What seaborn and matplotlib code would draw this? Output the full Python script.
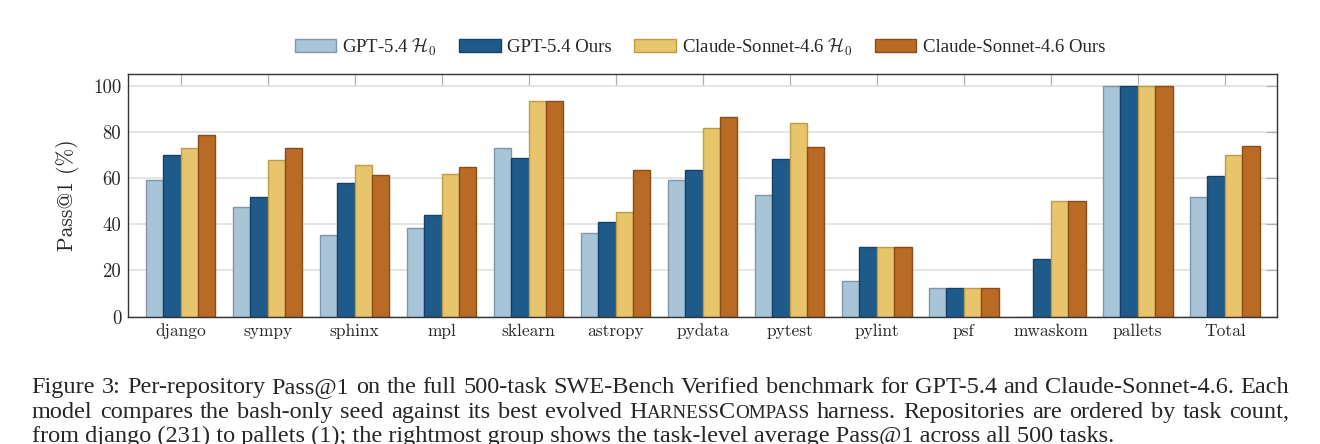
import pandas as pd
import seaborn as sns
import matplotlib.pyplot as plt

# Per-repository Pass@1 (%)
repos = ["django", "sympy", "sphinx", "mpl", "sklearn", "astropy", "pydata",
         "pytest", "pylint", "psf", "mwaskom", "pallets", "Total"]
gpt_h0 = [59.3, 47.3, 35.3, 38.2, 73.2, 36.4, 59.0, 52.5, 15.3, 12.5, 0.0, 100.0, 51.8]
gpt_ours = [70.1, 52.0, 58.0, 44.2, 68.6, 41.0, 63.6, 68.4, 30.0, 12.5, 25.0, 100.0, 61.0]
claude_h0 = [73.1, 67.9, 65.8, 61.7, 93.5, 45.5, 81.6, 84.0, 30.0, 12.5, 50.0, 100.0, 69.9]
claude_ours = [78.7, 73.1, 61.3, 64.6, 93.5, 63.6, 86.2, 73.5, 30.0, 12.5, 50.0, 100.0, 73.7]

series = ["GPT-5.4 $\\mathcal{H}_0$", "GPT-5.4 Ours",
          "Claude-Sonnet-4.6 $\\mathcal{H}_0$", "Claude-Sonnet-4.6 Ours"]
fills = ["#a7c4d9", "#1f5b8a", "#e8c46c", "#b96b25"]
edges = ["#7f97a8", "#15406a", "#bf9c48", "#8a4c16"]

caption_1 = ("Figure 3: Per-repository Pass@1 on the full 500-task SWE-Bench Verified benchmark "
             "for GPT-5.4 and Claude-Sonnet-4.6. Each")
caption_2a = "model compares the bash-only seed against its best evolved"
caption_2b = "harness. Repositories are ordered by task count,"
caption_3 = ("from django (231) to pallets (1); the rightmost group shows the task-level "
             "average Pass@1 across all 500 tasks.")

rows = []
for name, vals in zip(series, [gpt_h0, gpt_ours, claude_h0, claude_ours]):
    for repo, v in zip(repos, vals):
        rows.append({"repo": repo, "series": name, "pass1": v})
df = pd.DataFrame(rows)

sns.set_style("white")
plt.rcParams["font.family"] = ["Liberation Serif", "DejaVu Serif"]
plt.rcParams["mathtext.fontset"] = "cm"

fig = plt.figure(figsize=(13.2, 4.44), dpi=100)
ax = fig.add_axes([128.3 / 1320, 1 - 316.7 / 444, (1277 - 128.3) / 1320, (316.7 - 74) / 444])

sns.barplot(data=df, x="repo", y="pass1", hue="series", hue_order=series,
            palette=fills, width=0.8, gap=0, saturation=1, errorbar=None, ax=ax)
for cont, ec in zip(ax.containers, edges):
    for p in cont:
        p.set_edgecolor(ec)
        p.set_linewidth(1.0)
ax.get_legend().remove()

ax.set_xlim(-0.6, 12.6)
ax.set_ylim(0, 105)
ax.set_yticks([0, 20, 40, 60, 80, 100])
ax.set_yticklabels(["0", "20", "40", "60", "80", "100"], family="cmr10", fontsize=13.5)
ax.set_xticks(range(len(repos)))
ax.set_xticklabels(repos, family="cmr10", fontsize=12.5)
ax.set_xlabel("")
ax.set_ylabel("Pass@1 (%)", family="cmr10", fontsize=15.5, labelpad=10)

ax.set_axisbelow(True)
ax.yaxis.grid(True, color="#e3e3e3", linewidth=1.3)
ax.tick_params(direction="in", top=True, right=True, length=8, width=0.9,
               color="#b0b0b0", pad=5)
ax.tick_params(axis="x", bottom=False)
for s in ax.spines.values():
    s.set_color("#333333")
    s.set_linewidth(1.0)

fig.legend(ax.containers, series, loc="center", bbox_to_anchor=(700 / 1320, 1 - 47 / 444),
           ncol=4, frameon=False, fontsize=13.5, handlelength=2.2, handleheight=0.7,
           handletextpad=0.35, columnspacing=1.2)

# caption: justified lines, words made of (text, size) pieces
cap_size = 17.5
sc = cap_size * 0.78
renderer = fig.canvas.get_renderer()


def justified(words, y_px, x0=31.7, x1=1289.0):
    drawn = []
    total = 0
    for word in words:
        parts = []
        for txt, sz in word:
            t = fig.text(0, 1 - y_px / 444, txt, fontsize=sz, va="baseline", ha="left")
            w = t.get_window_extent(renderer).width
            parts.append((t, w))
            total += w
        drawn.append(parts)
    gap = (x1 - x0 - total) / (len(words) - 1)
    x = x0
    for parts in drawn:
        for t, w in parts:
            t.set_x(x / 1320)
            x += w
        x += gap


justified([[(w, cap_size)] for w in caption_1.split()], 393)
line2 = [[(w, cap_size)] for w in caption_2a.split()]
line2.append([("H", cap_size), ("ARNESS", sc), ("C", cap_size), ("OMPASS", sc)])
line2 += [[(w, cap_size)] for w in caption_2b.split()]
justified(line2, 418)

fig.text(31.7 / 1320, 1 - 442 / 444, caption_3,
         fontsize=cap_size, va="baseline", ha="left")

fig.savefig("out.png", dpi=100)
